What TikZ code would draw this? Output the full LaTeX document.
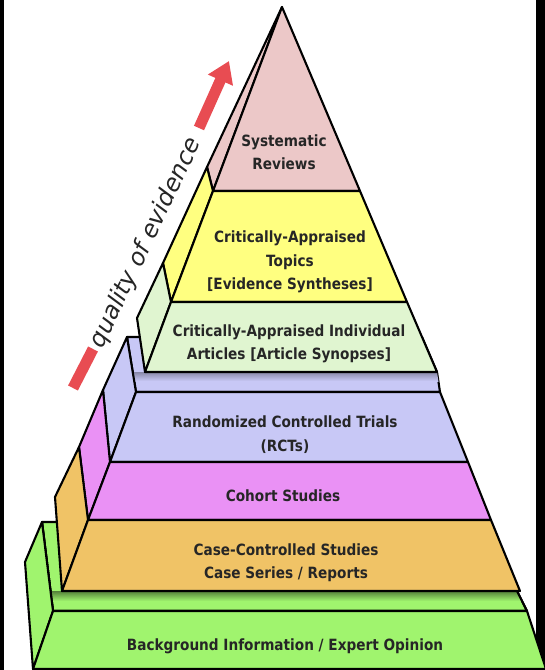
\documentclass[tikz,border=0pt]{standalone}
\usepackage{fontspec}
\setmainfont{DejaVu Sans}[FakeStretch=0.88]
\newfontfamily\qfont{DejaVu Sans}
\usetikzlibrary{arrows.meta}
\definecolor{cpink}{RGB}{236,200,200}
\definecolor{cyellow}{RGB}{255,255,128}
\definecolor{clgreen}{RGB}{224,245,208}
\definecolor{clav}{RGB}{200,200,246}
\definecolor{cmag}{RGB}{234,145,245}
\definecolor{corange}{RGB}{240,195,102}
\definecolor{cgreen}{RGB}{160,244,110}
\definecolor{cred}{RGB}{232,76,82}
\definecolor{ctext}{RGB}{38,38,38}
\begin{document}
\begin{tikzpicture}[x=1pt,y=-1pt,
  face/.style={draw=black,line width=2.1pt,line join=round},
  lbl/.style={font=\bfseries\fontsize{15.5}{23.5}\selectfont,text=ctext,align=center,inner sep=0pt}]
\useasboundingbox (0,0) rectangle (545,670);
\fill[white] (0,0) rectangle (545,670);
\fill[black] (0,0) rectangle (4,670);
\fill[black] (536,0) rectangle (545,670);
\begin{scope}
\clip (0,0) rectangle (545,670);
% ---------- base block ----------
\path[face,fill=cgreen] (42,522) -- (53,611) -- (527,611) -- (517,591) -- (489,522) -- cycle;
\begin{scope}
  \clip (42,522) -- (53,611) -- (527,611) -- (517,591) -- (489,522) -- cycle;
  \shade[top color=cgreen!55!black,bottom color=cgreen] (40,591.5) rectangle (530,601);
\end{scope}
\draw[line width=2.1pt,line join=round] (42,522) -- (53,611) -- (527,611) -- (517,591);
\path[face,fill=cgreen] (42,522) -- (53,611) -- (33,669) -- (25,562) -- cycle;
\path[face,fill=cgreen] (53,611) -- (527,611) -- (546,669) -- (33,669) -- cycle;
% ---------- middle block ----------
\path[face,fill=clav] (127,337) -- (136,392) -- (440,392) -- (437,372) -- (422,337) -- cycle;
\begin{scope}
  \clip (127,337) -- (136,392) -- (440,392) -- (437,372) -- (422,337) -- cycle;
  \shade[top color=clav!70!black,bottom color=clav] (120,372.5) rectangle (445,381);
\end{scope}
\path[face,fill=clav] (127,337) -- (136,392) -- (110,462) -- (103,390) -- cycle;
\path[face,fill=cmag] (103,390) -- (110,462) -- (88,520) -- (79,447) -- cycle;
\path[face,fill=corange] (79,447) -- (88,520) -- (62,591) -- (55,497) -- cycle;
\path[face,fill=clav] (136,392) -- (440,392) -- (468,462) -- (110,462) -- cycle;
\path[face,fill=cmag] (110,462) -- (468,462) -- (491,520) -- (88,520) -- cycle;
\path[face,fill=corange] (88,520) -- (491,520) -- (520,591) -- (62,591) -- cycle;
% ---------- top block ----------
\path[face,fill=cpink] (282,7) -- (213,191) -- (207,167) -- cycle;
\path[face,fill=cyellow] (207,167) -- (213,191) -- (171,302) -- (163,263) -- cycle;
\path[face,fill=clgreen] (163,263) -- (171,302) -- (145,372) -- (137,318) -- cycle;
\path[face,fill=cpink] (282,7) -- (360,191) -- (213,191) -- cycle;
\path[face,fill=cyellow] (213,191) -- (360,191) -- (407,302) -- (171,302) -- cycle;
\path[face,fill=clgreen] (171,302) -- (407,302) -- (437,372) -- (145,372) -- cycle;
\end{scope}
% ---------- labels ----------
\node[lbl] (sr) at (284,152) {Systematic\\Reviews};
\node[lbl] (cat) at (290,262) {Critically-Appraised\\Topics\\{[}Evidence Syntheses{]}};
\node[lbl] (cai) at (289,344) {Critically-Appraised Individual\\Articles {[}Article Synopses{]}};
\node[lbl] (rct) at (285,434.5) {Randomized Controlled Trials\\(RCTs)};
\node[lbl] (coh) at (283,496) {Cohort Studies};
\node[lbl] (ccs) at (286,562.5) {Case-Controlled Studies\\Case Series / Reports};
\node[lbl] (bg) at (285,646) {Background Information / Expert Opinion};
% ---------- quality arrow ----------
\draw[cred,line width=11pt] (73,388) -- (93,349);
\draw[cred,line width=11pt,-{Triangle[width=26pt,length=21pt]}] (199,128) -- (229,61);
\node[font=\qfont\itshape\fontsize{24}{24}\selectfont,text=ctext,rotate=64.5,inner sep=0pt] (q) at (146,243) {quality of evidence};
\end{tikzpicture}
\end{document}
